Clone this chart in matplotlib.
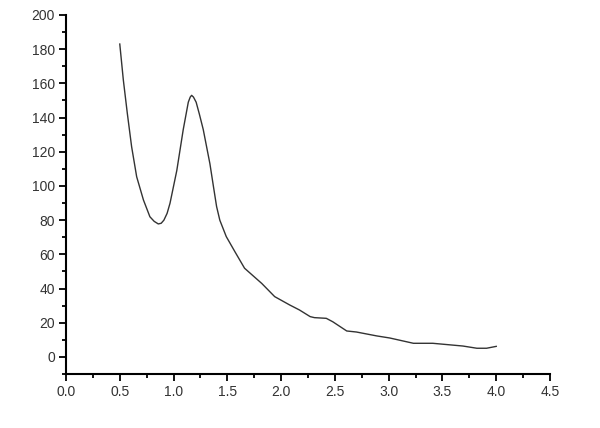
import matplotlib
matplotlib.use("Agg")
import matplotlib.pyplot as plt
from matplotlib.ticker import MultipleLocator, FormatStrFormatter

x_vals = [0.50, 0.533, 0.57, 0.61, 0.657, 0.72, 0.78, 0.82, 0.858, 0.885, 0.91, 0.94, 0.967, 1.03, 1.09,
          1.137, 1.155, 1.168, 1.185, 1.21, 1.24, 1.276, 1.338, 1.37, 1.40, 1.43, 1.49, 1.57, 1.66, 1.73, 1.82, 1.94,
          2.08, 2.17, 2.27, 2.31, 2.42, 2.48, 2.61, 2.70, 2.89, 3.01, 3.23, 3.41, 3.48, 3.69,
          3.82, 3.91, 4.00]
y_vals = [183, 162, 142.5, 123, 105.4, 91.8, 82, 79.3, 77.8, 78.2, 80, 84, 89.9, 109, 133,
          149, 152, 153, 152, 149, 142, 133, 113, 100, 88, 80, 70.4, 61.6, 51.9, 48, 43, 35.3,
          30.4, 27.5, 23.6, 23, 22.6, 20.6, 15.2, 14.6, 12.3, 11.1, 8, 8, 7.6, 6.4,
          5.1, 5.1, 6.2]

plt.rcParams['font.family'] = ['Liberation Sans', 'DejaVu Sans']
fig = plt.figure(figsize=(6.0, 4.28), dpi=100)
ax = fig.add_axes([0.11, 0.126, 0.8067, 0.839])
ax.plot(x_vals, y_vals, color='#333333', lw=1.0)
ax.set_xlim(0, 4.5)
ax.set_ylim(-10, 200)
ax.xaxis.set_major_locator(MultipleLocator(0.5))
ax.xaxis.set_minor_locator(MultipleLocator(0.25))
ax.yaxis.set_major_locator(MultipleLocator(20))
ax.yaxis.set_minor_locator(MultipleLocator(10))
ax.xaxis.set_major_formatter(FormatStrFormatter('%.1f'))
for s in ['top', 'right']:
    ax.spines[s].set_visible(False)
for s in ['left', 'bottom']:
    ax.spines[s].set_linewidth(1.5)
ax.tick_params(which='major', direction='out', length=5, width=1.3, labelsize=10, labelcolor='#333333', pad=3)
ax.tick_params(which='minor', direction='out', length=3, width=1.3)
fig.savefig('out.png', dpi=100)
